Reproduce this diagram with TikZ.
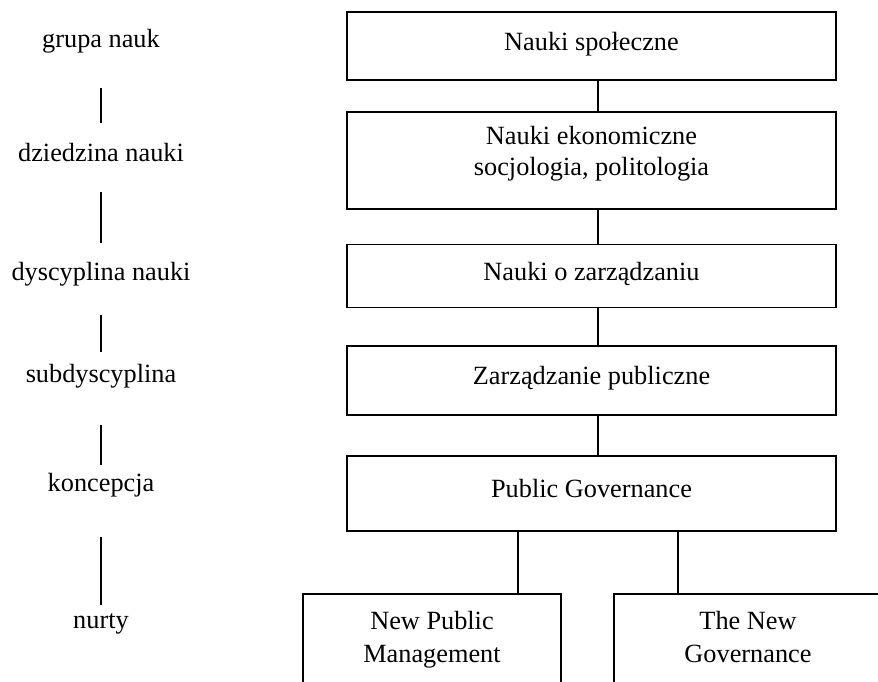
\documentclass[tikz,border=0pt]{standalone}
\usepackage{fontspec}
\setmainfont{Liberation Serif}
\begin{document}
\begin{tikzpicture}[x=1pt,y=-1pt,
  txt/.style={font=\fontsize{26.3}{31}\selectfont, inner sep=0pt, text height=18pt, text depth=6pt},
  box/.style={draw, line width=1.8pt, minimum width=489pt, inner sep=0pt,
              font=\fontsize{26.3}{31}\selectfont, text height=18pt, text depth=10pt},
  openbox/.style={draw, line width=1.8pt, minimum height=150pt, inner sep=0pt, anchor=north},
  conn/.style={line width=1.8pt},
  lconn/.style={line width=1.8pt}]
\useasboundingbox (0,0) rectangle (878,681);
\clip (0,0) rectangle (878,681);

% left column labels
\node[txt] (l1) at (101,41) {grupa nauk};
\node[txt] (l2) at (101,155) {dziedzina nauki};
\node[txt] (l3) at (101,274) {dyscyplina nauki};
\node[txt] (l4) at (101,376) {subdyscyplina};
\node[txt] (l5) at (101,485) {koncepcja};
\node[txt] (l6) at (101,622) {nurty};

\draw[lconn, shorten <=47pt, shorten >=32pt] (l1.center) -- (l2.center);
\draw[lconn, shorten <=37pt, shorten >=31pt] (l2.center) -- (l3.center);
\draw[lconn, shorten <=41pt, shorten >=24pt] (l3.center) -- (l4.center);
\draw[lconn, shorten <=49pt, shorten >=20pt] (l4.center) -- (l5.center);
\draw[lconn, shorten <=52pt, shorten >=17pt] (l5.center) -- (l6.center);

% right column boxes
\node[box, minimum height=68pt] (b1) at (591.5,46) {Nauki społeczne};
\node[box, minimum height=97pt] (b2) at (591.5,160.5) {};
\node[txt] (t2a) at (591.5,138) {Nauki ekonomiczne};
\node[txt] (t2b) at (591.5,169) {socjologia, politologia};
\node[box, minimum height=63pt] (b3) at (591.5,276) {Nauki o zarządzaniu};
\node[box, minimum height=69pt] (b4) at (591.5,380.5) {Zarządzanie publiczne};
\node[box, minimum height=75pt] (b5) at (591.5,493.5) {Public Governance};

\node[openbox, minimum width=258pt] (nl) at (432,593) {};
\node[txt] (nlt1) at (432,623) {New Public};
\node[txt] (nlt2) at (432,656) {Management};
\node[openbox, minimum width=268pt] (nr) at (748,593) {};
\node[txt] (nrt1) at (748,623) {The New};
\node[txt] (nrt2) at (748,656) {Governance};

% connectors
\coordinate (m) at (598,0);
\coordinate (cl) at (518,0);
\coordinate (cr) at (678,0);
\draw[conn] (b1.south -| m) -- (b2.north -| m);
\draw[conn] (b2.south -| m) -- (b3.north -| m);
\draw[conn] (b3.south -| m) -- (b4.north -| m);
\draw[conn] (b4.south -| m) -- (b5.north -| m);
\draw[conn] (b5.south -| cl) -- (nl.north -| cl);
\draw[conn] (b5.south -| cr) -- (nr.north -| cr);
\end{tikzpicture}
\end{document}
